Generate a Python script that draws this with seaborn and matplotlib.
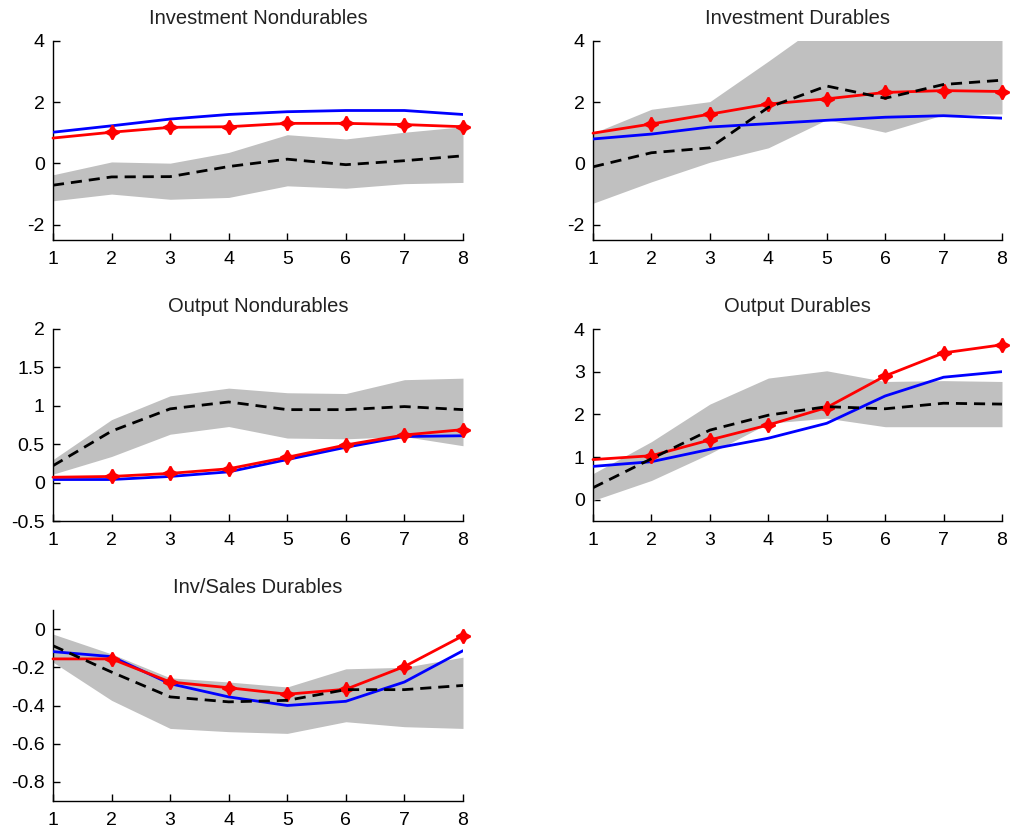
import numpy as np
import pandas as pd
import matplotlib
matplotlib.use("Agg")
import matplotlib.pyplot as plt
import seaborn as sns
from matplotlib.ticker import FuncFormatter

sns.set_theme(style="white")
plt.rcParams['font.family'] = ['Liberation Sans', 'DejaVu Sans']

horizon = [1, 2, 3, 4, 5, 6, 7, 8]

titles = ["Investment Nondurables", "Investment Durables", "Output Nondurables",
          "Output Durables", "Inv/Sales Durables"]

# Blue model line
blue_vals = [
    [1.02, 1.23, 1.45, 1.60, 1.69, 1.73, 1.73, 1.60],
    [0.80, 0.96, 1.19, 1.30, 1.41, 1.51, 1.56, 1.48],
    [0.04, 0.04, 0.08, 0.14, 0.30, 0.46, 0.60, 0.61],
    [0.78, 0.89, 1.18, 1.44, 1.79, 2.43, 2.87, 3.00],
    [-0.118, -0.144, -0.286, -0.355, -0.400, -0.378, -0.277, -0.113],
]
# Red model line with star markers
red_vals = [
    [0.83, 1.02, 1.18, 1.20, 1.31, 1.31, 1.27, 1.20],
    [0.99, 1.29, 1.61, 1.94, 2.11, 2.32, 2.38, 2.35],
    [0.07, 0.08, 0.12, 0.18, 0.33, 0.49, 0.62, 0.69],
    [0.94, 1.03, 1.40, 1.75, 2.16, 2.90, 3.44, 3.63],
    [-0.156, -0.156, -0.277, -0.307, -0.341, -0.315, -0.196, -0.035],
]
# Black dashed (data estimate)
black_vals = [
    [-0.71, -0.44, -0.43, -0.10, 0.14, -0.04, 0.09, 0.25],
    [-0.11, 0.35, 0.51, 1.83, 2.53, 2.13, 2.58, 2.72],
    [0.22, 0.67, 0.96, 1.05, 0.95, 0.95, 0.99, 0.95],
    [0.28, 0.96, 1.63, 1.98, 2.18, 2.13, 2.26, 2.24],
    [-0.087, -0.225, -0.355, -0.381, -0.373, -0.317, -0.317, -0.295],
]
# Confidence band
band_upper = [
    [-0.37, 0.05, 0.01, 0.36, 0.94, 0.80, 1.02, 1.20],
    [0.99, 1.77, 2.02, 3.34, 4.70, 4.80, 4.90, 5.00],
    [0.30, 0.82, 1.13, 1.23, 1.17, 1.16, 1.34, 1.36],
    [0.61, 1.36, 2.24, 2.85, 3.02, 2.77, 2.79, 2.77],
    [-0.026, -0.130, -0.255, -0.277, -0.303, -0.208, -0.200, -0.147],
]
band_lower = [
    [-1.22, -1.00, -1.17, -1.11, -0.73, -0.81, -0.66, -0.62],
    [-1.30, -0.60, 0.04, 0.51, 1.43, 1.02, 1.59, 1.62],
    [0.11, 0.34, 0.63, 0.73, 0.58, 0.57, 0.60, 0.48],
    [-0.02, 0.45, 1.08, 1.79, 1.91, 1.71, 1.71, 1.71],
    [-0.173, -0.373, -0.520, -0.537, -0.546, -0.485, -0.511, -0.520],
]

ylims = [(-2.5, 4), (-2.5, 4), (-0.5, 2), (-0.5, 4), (-0.9, 0.1)]
yticks = [[-2, 0, 2, 4], [-2, 0, 2, 4], [-0.5, 0, 0.5, 1, 1.5, 2],
          [0, 1, 2, 3, 4], [-0.8, -0.6, -0.4, -0.2, 0]]

W, H = 1013, 833
# pixel boxes: (left, top, right, bottom)
boxes = [(53, 41, 463, 240), (593, 41, 1002, 240),
         (53, 329, 463, 521), (593, 329, 1002, 521),
         (53, 610, 463, 801)]

fig = plt.figure(figsize=(W / 100, H / 100), dpi=100)
star = (4, 1, 0)

for i in range(5):
    l, t, r, b = boxes[i]
    ax = fig.add_axes([l / W, 1 - b / H, (r - l) / W, (b - t) / H])
    ax.fill_between(horizon, band_lower[i], band_upper[i], color="#c0c0c0",
                    linewidth=0, zorder=1)
    df = pd.DataFrame({"h": horizon, "blue": blue_vals[i], "red": red_vals[i],
                       "black": black_vals[i]})
    sns.lineplot(data=df, x="h", y="blue", ax=ax, color="#0000ff", lw=2.0, zorder=3)
    sns.lineplot(data=df, x="h", y="red", ax=ax, color="#ff0000", lw=2.0,
                 marker=star, markersize=10, markeredgecolor="#ff0000",
                 markerfacecolor="#ff0000", markeredgewidth=1.5, zorder=4,
                 clip_on=False, markevery=list(range(1, 8)))
    sns.lineplot(data=df, x="h", y="black", ax=ax, color="black", lw=2.0, zorder=5)
    ax.lines[-1].set_dashes([4, 2.5])
    ax.set_xlim(1, 8)
    ax.set_ylim(*ylims[i])
    ax.set_xticks(horizon)
    ax.set_yticks(yticks[i])
    ax.yaxis.set_major_formatter(FuncFormatter(lambda v, p: f"{v:g}"))
    ax.set_xlabel("")
    ax.set_ylabel("")
    ax.set_title(titles[i], fontsize=14.5, color="#222222", pad=12)
    for s in ["top", "right"]:
        ax.spines[s].set_visible(False)
    for s in ["left", "bottom"]:
        ax.spines[s].set_color("black")
        ax.spines[s].set_linewidth(1.0)
    ax.tick_params(direction="in", length=5, width=1, labelsize=14,
                   colors="black", left=True, bottom=True)
    ax.tick_params(axis="x", pad=8)
    ax.tick_params(axis="y", pad=6)
    ax.set_facecolor("white")

fig.savefig("out.png", dpi=100, facecolor="white")
